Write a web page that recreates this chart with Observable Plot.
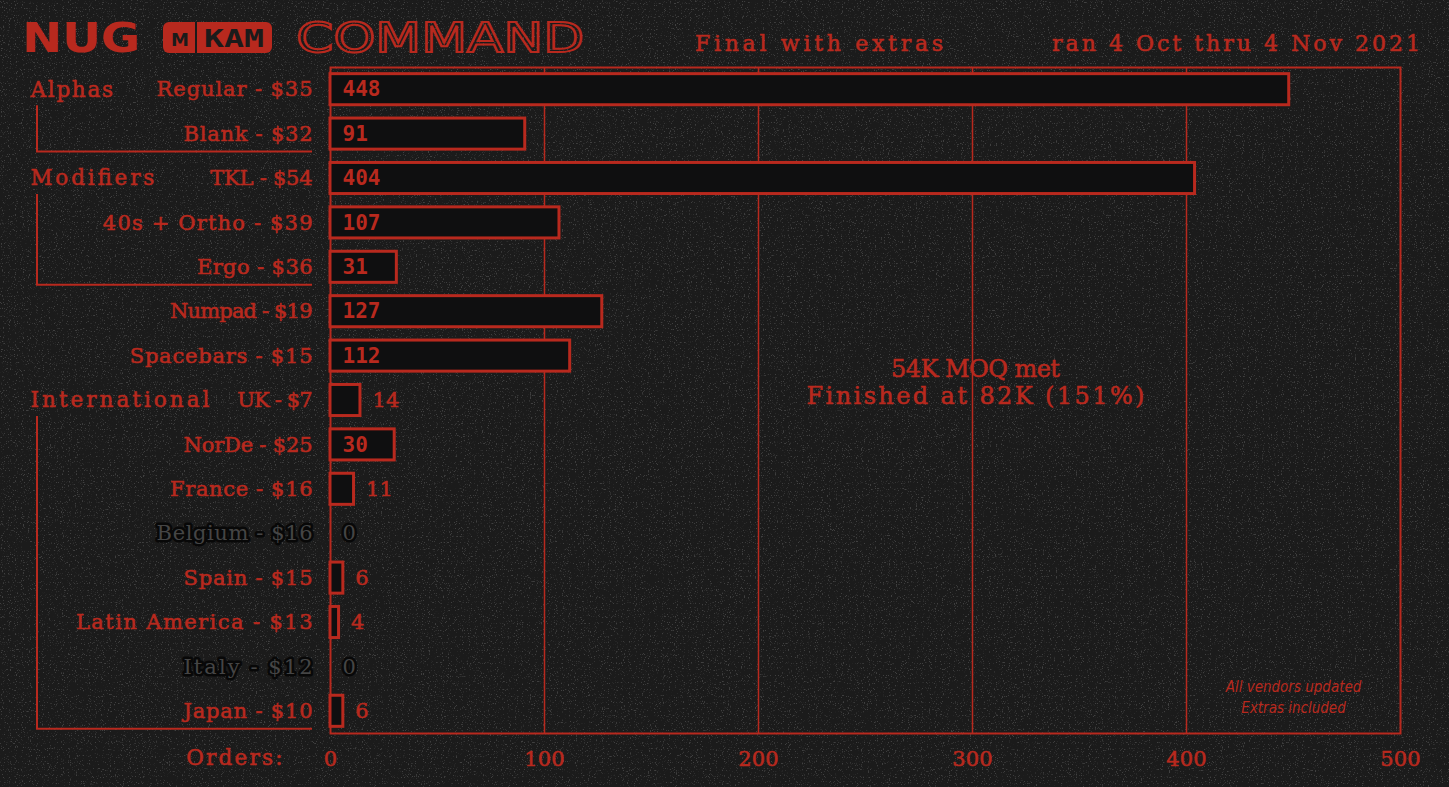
<!DOCTYPE html>
<html>
<head>
<meta charset="utf-8">
<script src="https://cdn.jsdelivr.net/npm/d3@7"></script>
<script src="https://cdn.jsdelivr.net/npm/@observablehq/plot@0.6"></script>
<style>
  html, body { margin: 0; padding: 0; background: #1b1b1b; width: 1449px; height: 787px; overflow: hidden; }
  #wrap { position: relative; width: 1449px; height: 787px; }
  #bg, #chart, #header { position: absolute; left: 0; top: 0; }
</style>
</head>
<body>
<div id="wrap">
  <svg id="bg" width="1449" height="787">
    <filter id="noise" x="0" y="0" width="100%" height="100%">
      <feTurbulence type="fractalNoise" baseFrequency="0.85" numOctaves="2" seed="3"/>
      <feColorMatrix values="0 0 0 0 1  0 0 0 0 1  0 0 0 0 1  7 0 0 0 -4.3"/>
    </filter>
    <rect width="1449" height="787" fill="#1b1b1b"/>
    <rect width="1449" height="787" filter="url(#noise)" opacity="0.16"/>
  </svg>
  <div id="chart"></div>
  <svg id="header" width="1449" height="70">
    <text x="22" y="52" textLength="118" lengthAdjust="spacingAndGlyphs" font-family="DejaVu Sans" font-weight="bold" font-size="40" fill="#b8291e">NUG</text>
    <rect x="163" y="22" width="109" height="31" rx="6" fill="#b8291e"/>
    <line x1="196" y1="22" x2="196" y2="53" stroke="#1b1b1b" stroke-width="2"/>
    <text x="180" y="46" text-anchor="middle" font-family="DejaVu Sans" font-weight="bold" font-size="18" fill="#1b1b1b">M</text>
    <text x="204" y="47" textLength="60" lengthAdjust="spacingAndGlyphs" font-family="DejaVu Sans Mono" font-weight="bold" font-size="24" fill="#1b1b1b">KAM</text>
    <text x="296" y="52" textLength="288" lengthAdjust="spacingAndGlyphs" font-family="DejaVu Sans" font-size="40" fill="none" stroke="#b8291e" stroke-width="2">COMMAND</text>
    <text id="sub1" x="695" y="51" textLength="248" lengthAdjust="spacing" font-family="DejaVu Serif" font-size="22" fill="#b8291e" stroke="#b8291e" stroke-width="0.6"></text>
    <text id="sub2" x="1420" y="51" text-anchor="end" textLength="368" lengthAdjust="spacing" font-family="DejaVu Serif" font-size="22" fill="#b8291e" stroke="#b8291e" stroke-width="0.6"></text>
  </svg>
</div>
<script>
// ---- data ----
const names  = ["Regular", "Blank", "TKL", "40s + Ortho", "Ergo", "Numpad", "Spacebars", "UK", "NorDe", "France", "Belgium", "Spain", "Latin America", "Italy", "Japan"];
const prices = [35, 32, 54, 39, 36, 19, 15, 7, 25, 16, 16, 15, 13, 12, 10];
const orders = [448, 91, 404, 107, 31, 127, 112, 14, 30, 11, 0, 6, 4, 0, 6];

const groupNames = ["Alphas", "Modifiers", "International"];
const groupFirst = ["Regular", "TKL", "UK"];
const groupLast  = ["Blank", "Ergo", "Japan"];

const xTicks    = [0, 100, 200, 300, 400, 500];
const gridTicks = [100, 200, 300, 400];

const subtitle1 = "Final with extras";
const subtitle2 = "ran 4 Oct thru 4 Nov 2021";
const centerNote = ["54K MOQ met", "Finished at 82K (151%)"];
const cornerNote = ["All vendors updated", "Extras included"];
const axisLabel = "Orders:";

// ---- styles ----
const red = "#b8291e";
const gray = "#454545";
const typeFont = "DejaVu Serif, serif";
const digiFont = "DejaVu Sans Mono, monospace";
const narrowFont = "DejaVu Sans Condensed, Roboto, sans-serif";

document.getElementById("sub1").textContent = subtitle1;
document.getElementById("sub2").textContent = subtitle2;

const rows = names.map((n, i) => ({name: n, price: prices[i], orders: orders[i], label: `${n} - $${prices[i]}`}));
const groups = groupNames.map((g, i) => ({name: g, first: groupFirst[i], last: groupLast[i]}));

function brackets(index, scales, values, dimensions) {
  const y = scales.y;
  const bw = y.bandwidth ? y.bandwidth() : 0;
  const g = d3.create("svg:g").attr("fill", "none").attr("stroke", red).attr("stroke-width", 2);
  const xv = dimensions.marginLeft - 293;
  const xe = dimensions.marginLeft - 18;
  for (const grp of groups) {
    const y0 = y(grp.first) + bw / 2 + 16;
    const y1 = y(grp.last) + bw / 2 + 18;
    g.append("path").attr("d", `M${xv},${y0}V${y1}H${xe}`);
  }
  return g.node();
}

const chart = Plot.plot({
  width: 1449,
  height: 787,
  marginLeft: 330,
  marginRight: 49,
  marginTop: 67,
  marginBottom: 54,
  style: {background: "transparent", color: red, fontFamily: typeFont, fontSize: "21px"},
  x: {domain: [0, 500], ticks: xTicks, tickSize: 0, tickPadding: 18, label: null},
  y: {domain: names, paddingInner: 0.3, paddingOuter: 0.15, round: false, axis: null},
  marks: [
    Plot.ruleX(gridTicks, {stroke: red, strokeWidth: 1.5}),
    Plot.frame({stroke: red, strokeWidth: 2}),
    Plot.barX(rows.filter(d => d.orders > 0), {x: "orders", y: "name", fill: "#0f0f10", stroke: red, strokeWidth: 3}),
    Plot.text(rows.filter(d => d.orders >= 30), {y: "name", text: d => String(d.orders), frameAnchor: "left", textAnchor: "start", dx: 12, fill: red, fontFamily: digiFont, fontWeight: "bold", fontSize: 21}),
    Plot.text(rows.filter(d => d.orders > 0 && d.orders < 30), {x: "orders", y: "name", text: d => String(d.orders), textAnchor: "start", dx: 12, fill: red, fontSize: 21}),
    Plot.text(rows.filter(d => d.orders === 0), {x: "orders", y: "name", text: d => String(d.orders), textAnchor: "start", dx: 12, fill: gray, stroke: "#080808", strokeWidth: 5, paintOrder: "stroke", fontSize: 21}),
    Plot.text(rows.filter(d => d.orders > 0), {y: "name", text: "label", frameAnchor: "left", textAnchor: "end", dx: -18, fill: red, fontSize: 21}),
    Plot.text(rows.filter(d => d.orders === 0), {y: "name", text: "label", frameAnchor: "left", textAnchor: "end", dx: -18, fill: gray, stroke: "#080808", strokeWidth: 5, paintOrder: "stroke", fontSize: 21}),
    Plot.text(groups, {y: "first", text: "name", frameAnchor: "left", textAnchor: "start", dx: -300, fill: red, fontSize: 21.5}),
    brackets,
    Plot.text([centerNote.join("\n")], {frameAnchor: "middle", dx: 110, dy: -19, lineHeight: 1.12, fill: red, fontSize: 24}),
    Plot.text([cornerNote.join("\n")], {frameAnchor: "bottom-right", lineAnchor: "middle", textAnchor: "middle", dx: -107, dy: -38, lineHeight: 1.4, fill: red, fontFamily: narrowFont, fontStyle: "italic", fontSize: 15}),
    Plot.text([axisLabel], {frameAnchor: "bottom-left", lineAnchor: "middle", textAnchor: "end", dx: -48, dy: 25, fill: red, fontSize: 21.5})
  ]
});

// typewriter look: give the serif text monospace-like advances and a heavier ink
function monoWidth(s, adv) {
  let w = 0;
  for (let i = 0; i < s.length; i++) {
    const c = s[i];
    if (c === " " && (s[i + 1] === "-" || s[i - 1] === "-")) w += adv * 0.5;
    else if (c === "-") w += adv * 0.6;
    else w += adv;
  }
  return w;
}
chart.querySelectorAll("text").forEach(t => {
  const fam = t.closest("[font-family]");
  if (fam && fam !== chart) return; // digital / narrow fonts keep natural widths
  const fsEl = t.closest("[font-size]");
  const fs = fsEl && fsEl !== chart ? parseFloat(fsEl.getAttribute("font-size")) : 21;
  const adv = 0.64 * fs;
  const parts = t.querySelectorAll("tspan");
  const targets = parts.length ? Array.from(parts) : [t];
  targets.forEach(el => {
    el.setAttribute("textLength", monoWidth(el.textContent, adv));
    el.setAttribute("lengthAdjust", "spacing");
  });
  const haloed = t.closest("[stroke]");
  if (!haloed || haloed === chart) {
    t.setAttribute("stroke", red);
    t.setAttribute("stroke-width", "0.6");
  }
});
document.getElementById("chart").appendChild(chart);
</script>
</body>
</html>
